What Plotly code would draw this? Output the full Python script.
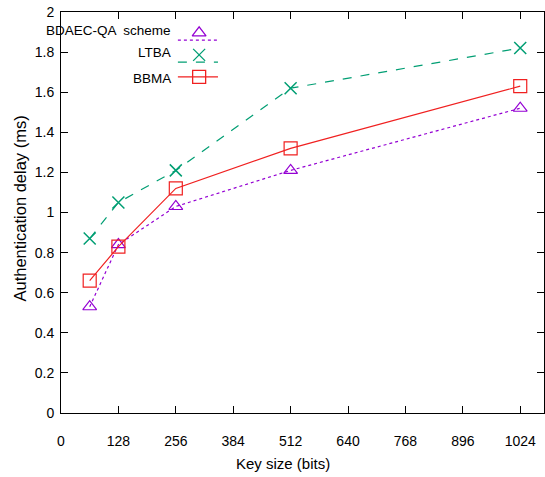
import plotly.graph_objects as go

key_sizes = [64, 128, 256, 512, 1024]
bdaec = [0.53, 0.84, 1.03, 1.21, 1.52]
ltba = [0.87, 1.05, 1.21, 1.62, 1.82]
bbma = [0.66, 0.83, 1.12, 1.32, 1.63]
series_names = ["BDAEC-QA  scheme", "LTBA", "BBMA"]
x_ticks = [0, 128, 256, 384, 512, 640, 768, 896, 1024]

PURPLE = "#9400D3"
GREEN = "#009E73"
RED = "#F02020"
FONT = "Liberation Sans"

fig = go.Figure()
fig.add_trace(go.Scatter(x=key_sizes, y=bdaec, mode="lines+markers",
    line=dict(color=PURPLE, width=1.2, dash="dot"),
    marker=dict(symbol="triangle-up-open", size=12, color=PURPLE, line=dict(width=1.2))))
fig.add_trace(go.Scatter(x=key_sizes, y=ltba, mode="lines+markers",
    line=dict(color=GREEN, width=1.2, dash="dash"),
    marker=dict(symbol="x-thin-open", size=12, color=GREEN, line=dict(width=1.5, color=GREEN))))
fig.add_trace(go.Scatter(x=key_sizes, y=bbma, mode="lines+markers",
    line=dict(color=RED, width=1.2),
    marker=dict(symbol="square-open", size=13, color=RED, line=dict(width=1.2))))

# gnuplot-style key drawn on an overlay axis (0..1)
styles = [
    (PURPLE, "dot", "triangle-up-open", 12, 0.953, 0.930, 0.948),
    (GREEN, "dash", "x-thin-open", 12, 0.898, 0.875, 0.893),
    (RED, "solid", "square-open", 13, 0.835, 0.838, 0.838),
]
for name, (c, d, sym, sz, ty, ly, my) in zip(series_names, styles):
    fig.add_trace(go.Scatter(x=[0.242, 0.325], y=[ly, ly], mode="lines",
        line=dict(color=c, width=1.2, dash=d), xaxis="x2", yaxis="y2"))
    fig.add_trace(go.Scatter(x=[0.286], y=[my], mode="markers",
        marker=dict(symbol=sym, size=sz, color=c, line=dict(width=1.3, color=c)),
        xaxis="x2", yaxis="y2"))
    fig.add_annotation(x=0.232, y=ty, xref="x2", yref="y2", text=name,
        showarrow=False, xanchor="right", yanchor="middle",
        font=dict(family=FONT, size=13.5, color="black"))

# axis titles
fig.add_annotation(x=0, y=0.5, xref="paper", yref="paper", text="Authentication delay (ms)",
    textangle=-90, showarrow=False, xanchor="center", yanchor="middle",
    xshift=-42, yshift=4, font=dict(family=FONT, size=16.5, color="black"))
fig.add_annotation(x=0.5, y=0, xref="paper", yref="paper", text="Key size (bits)",
    showarrow=False, xanchor="center", yanchor="middle",
    xshift=-20, yshift=-50, font=dict(family=FONT, size=15, color="black"))

axis_common = dict(showline=True, linecolor="black", linewidth=1, mirror="ticks",
                   ticks="inside", ticklen=7, tickcolor="black", showgrid=False,
                   zeroline=False, tickfont=dict(family=FONT, size=14, color="black"))

fig.update_layout(
    width=545, height=477,
    margin=dict(l=61, r=1, t=12, b=64),
    paper_bgcolor="white", plot_bgcolor="white",
    showlegend=False,
    xaxis=dict(range=[0, 1077], tickvals=x_ticks, ticktext=[str(v) for v in x_ticks],
               ticklabelstandoff=15, **axis_common),
    yaxis=dict(range=[0, 2], dtick=0.2, tick0=0, ticklabelstandoff=3, **axis_common),
    xaxis2=dict(range=[0, 1], overlaying="x", visible=False),
    yaxis2=dict(range=[0, 1], overlaying="y", visible=False),
)

fig.write_html("out.html")
